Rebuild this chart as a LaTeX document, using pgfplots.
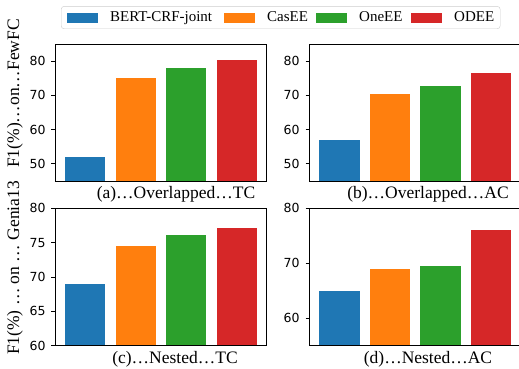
\documentclass[border=0pt]{standalone}
\usepackage{fontspec}
\setmainfont{Liberation Serif}
\newfontfamily\dejavu{DejaVu Sans}
\usepackage{pgfplots}
\pgfplotsset{compat=1.18}
\definecolor{c1}{HTML}{1F77B4}
\definecolor{c2}{HTML}{FF7F0E}
\definecolor{c3}{HTML}{2CA02C}
\definecolor{c4}{HTML}{D62728}
\newcommand{\entry}[2]{\makebox[#1pt][l]{\rule{12pt}{0pt}#2}}
\pgfplotsset{
  panel/.style={scale only axis, width=211pt, height=137pt, anchor=south west,
    xmin=-0.59, xmax=3.59, xtick=\empty, ytick pos=left, tick align=outside,
    major tick length=4pt, axis line style={line width=0.8pt, black},
    every tick/.style={black, line width=0.8pt},
    yticklabel style={font=\dejavu\fontsize{12.5}{12.5}\selectfont, xshift=-2.5pt},
    /pgf/number format/assume math mode=true, axis on top},
  mybar/.style={ybar, bar width=0.8, bar shift=0pt, fill=#1, draw=none,
    legend image code/.code={\fill[#1, sharp corners] (0pt,-5pt) rectangle (31pt,5pt);}},
}
\begin{document}
\begin{tikzpicture}
\useasboundingbox (0,0) rectangle (519pt,369pt);
% (a)
\begin{axis}[panel, at={(55.5pt,188pt)}, ymin=45, ymax=85, ytick={50,60,70,80},
  legend columns=4,
  legend style={at={(0,1)}, anchor=south west, xshift=5.5pt, yshift=15pt,
    font=\fontsize{15}{15}\selectfont, draw=black!20, rounded corners=3pt, fill=white,
    inner xsep=6pt, inner ysep=5.5pt, nodes={inner sep=0pt},
    /tikz/every odd column/.style={column sep=0pt},
    /tikz/every even column/.style={column sep=0pt}}]
\addplot[mybar=c1] coordinates {(0,52.0)}; \addlegendentry{\entry{126}{BERT-CRF-joint}}
\addplot[mybar=c2] coordinates {(1,75.0)}; \addlegendentry{\entry{61}{CasEE}}
\addplot[mybar=c3] coordinates {(2,77.9)}; \addlegendentry{\entry{64}{OneEE}}
\addplot[mybar=c4] coordinates {(3,80.2)}; \addlegendentry{\entry{52}{ODEE}}
\end{axis}
% (b)
\begin{axis}[panel, at={(309.6pt,188pt)}, ymin=45, ymax=85, ytick={50,60,70,80}]
\addplot[mybar=c1] coordinates {(0,57.0)};
\addplot[mybar=c2] coordinates {(1,70.4)};
\addplot[mybar=c3] coordinates {(2,72.7)};
\addplot[mybar=c4] coordinates {(3,76.4)};
\end{axis}
% (c)
\begin{axis}[panel, at={(55.5pt,23.3pt)}, height=137.4pt, ymin=60, ymax=80, ytick={60,65,70,75,80}]
\addplot[mybar=c1] coordinates {(0,69.0)};
\addplot[mybar=c2] coordinates {(1,74.5)};
\addplot[mybar=c3] coordinates {(2,76.1)};
\addplot[mybar=c4] coordinates {(3,77.1)};
\end{axis}
% (d)
\begin{axis}[panel, at={(309.6pt,23.3pt)}, height=137.4pt, ymin=55, ymax=80, ytick={60,70,80}]
\addplot[mybar=c1] coordinates {(0,65.0)};
\addplot[mybar=c2] coordinates {(1,69.0)};
\addplot[mybar=c3] coordinates {(2,69.5)};
\addplot[mybar=c4] coordinates {(3,76.1)};
\end{axis}
% titles
\begin{scope}[every node/.style={font=\fontsize{17.5}{17.5}\selectfont, inner sep=0pt}]
\node[anchor=base] at (176pt,170.3pt) {(a)…Overlapped…TC};
\node[anchor=base] at (428pt,170.3pt) {(b)…Overlapped…AC};
\node[anchor=base] at (175pt,5pt) {(c)…Nested…TC};
\node[anchor=base] at (428pt,5pt) {(d)…Nested…AC};
\node[anchor=base, rotate=90] at (19pt,275.5pt) {F1(\%)…on…FewFC};
\node[anchor=base, rotate=90] at (19pt,101pt) {F1(\%) … on … Genia13};
\end{scope}
\end{tikzpicture}
\end{document}
